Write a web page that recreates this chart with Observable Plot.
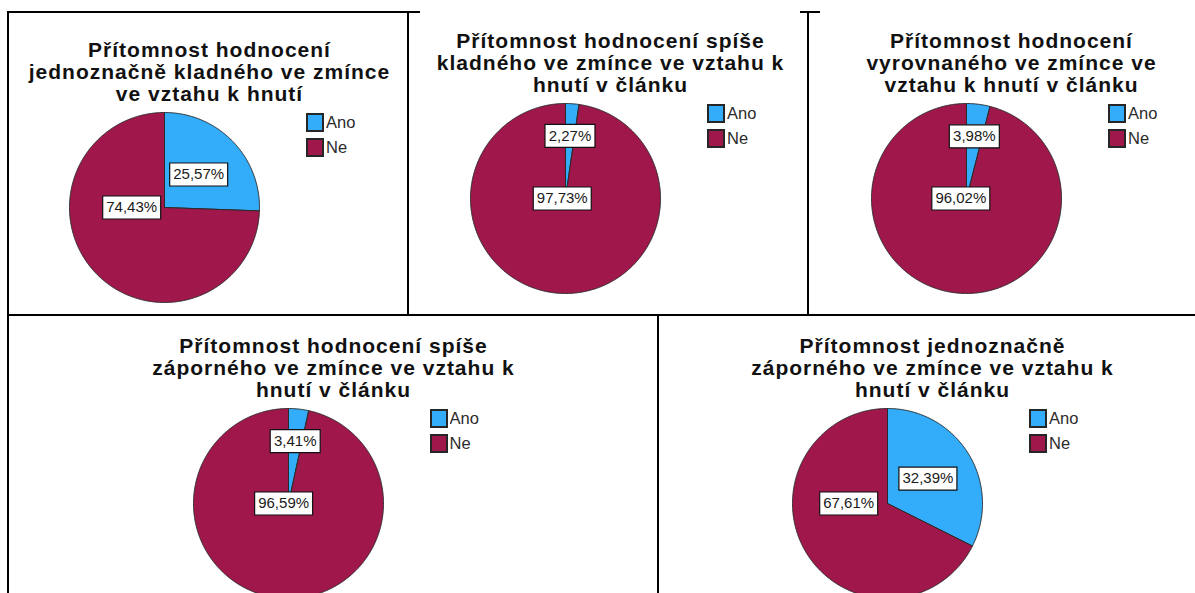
<!DOCTYPE html>
<html>
<head>
<meta charset="utf-8">
<script src="https://cdn.jsdelivr.net/npm/d3@7"></script>
<script src="https://cdn.jsdelivr.net/npm/@observablehq/plot@0.6"></script>
<style>
  body { margin: 0; background: #fff; overflow: hidden; font-family: "Liberation Sans", Arial, sans-serif; }
  #page { position: relative; width: 1195px; height: 593px; overflow: hidden; background: #fff; }
  .rule { position: absolute; background: #000; }
  .chart { position: absolute; width: 400px; height: 280px; }
  .chart > svg { position: absolute; left: 0; top: 0; overflow: visible; background: transparent; }
  .chart > svg g[font-weight="bold"] { letter-spacing: 1px; }
  .legendbox { position: absolute; }
  .legendbox, .legendbox * { font-family: "Liberation Sans", Arial, sans-serif !important; font-size: 16.5px !important; color: #2b2b2b !important; }
  .legendbox > div { margin: 0 !important; padding: 0 !important; min-height: 0 !important; display: block !important; columns: auto !important; }
  .legendbox > div > div { height: 25px !important; padding: 0 !important; margin: 0 !important; display: flex !important; align-items: flex-start !important; line-height: 17px !important; width: auto !important; overflow: visible !important; }
  .legendbox svg { margin: 0 3px 0 0 !important; flex-shrink: 0; }
  .legendbox svg rect { stroke: #262626; stroke-width: 2px; }
</style>
</head>
<body>
<div id="page"></div>
<script>
// ---------- data ----------
const titles = [
  "Přítomnost hodnocení\njednoznačně kladného ve zmínce\nve vztahu k hnutí",
  "Přítomnost hodnocení spíše\nkladného ve zmínce ve vztahu k\nhnutí v článku",
  "Přítomnost hodnocení\nvyrovnaného ve zmínce ve\nvztahu k hnutí v článku",
  "Přítomnost hodnocení spíše\nzáporného ve zmínce ve vztahu k\nhnutí v článku",
  "Přítomnost jednoznačně\nzáporného ve zmínce ve vztahu k\nhnutí v článku"
];
const categories = ["Ano", "Ne"];
const anoValues = [25.57, 2.27, 3.98, 3.41, 32.39];
const neValues  = [74.43, 97.73, 96.02, 96.59, 67.61];

// ---------- style / layout ----------
const colors = ["#33acfa", "#a0184b"];
const FONT = "Liberation Sans, Arial, sans-serif";
const R = 95, CX = 150, CY = 175, W = 400, H = 280;
// page position of each pie's centre
const centres = [[164, 207], [565, 198], [966, 198], [287.5, 503], [887, 503]];

const page = document.getElementById("page");

function rule(x, y, w, h) {
  const d = document.createElement("div");
  d.className = "rule";
  Object.assign(d.style, {left: x + "px", top: y + "px", width: w + "px", height: h + "px"});
  page.appendChild(d);
}

const ctx = document.createElement("canvas").getContext("2d");
ctx.font = "15px 'Liberation Sans', Arial, sans-serif";
const textWidth = (s) => ctx.measureText(s).width;
const fmt = (v) => v.toFixed(2).replace(".", ",") + "%";

function boxSymbol(w, h) {
  return { draw(c) { c.moveTo(-w / 2, -h / 2); c.lineTo(w / 2, -h / 2); c.lineTo(w / 2, h / 2); c.lineTo(-w / 2, h / 2); c.closePath(); } };
}

function pie(i) {
  const vals = [anoValues[i], neValues[i]];
  const total = d3.sum(vals);
  let a = 0;
  const slices = categories.map((c, k) => {
    const a0 = a, a1 = a + vals[k] / total * 2 * Math.PI;
    a = a1;
    return {category: c, value: vals[k], share: vals[k] / total, a0, a1, mid: (a0 + a1) / 2, color: colors[k]};
  });
  const outlines = slices.map(s => {
    const n = Math.max(2, Math.ceil((s.a1 - s.a0) / (Math.PI / 360)));
    const pts = [{x: 0, y: 0}];
    for (let j = 0; j <= n; j++) {
      const t = s.a0 + (s.a1 - s.a0) * j / n;
      pts.push({x: Math.sin(t), y: Math.cos(t)});
    }
    pts.push({x: 0, y: 0});
    return pts;
  });
  const labels = slices.map(s => {
    let lx, ly;
    if (s.share > 0.5) { lx = 0.48 * Math.sin(s.mid); ly = 0; }
    else { const f = s.share < 0.1 ? 0.66 : 0.5; lx = f * Math.sin(s.mid); ly = f * Math.cos(s.mid); }
    return {lx, ly, text: fmt(s.value)};
  });

  const svg = Plot.plot({
    width: W, height: H, margin: 0,
    style: {fontFamily: FONT, overflow: "visible", background: "transparent"},
    x: {domain: [-1, 1], range: [CX - R, CX + R], axis: null},
    y: {domain: [-1, 1], range: [CY + R, CY - R], axis: null},
    marks: [
      ...slices.map((s, k) => Plot.line(outlines[k], {x: "x", y: "y", fill: s.color, stroke: "#2a2a2a", strokeWidth: 1, strokeLinejoin: "round"})),
      ...labels.map(l => Plot.dot([l], {x: "lx", y: "ly", r: 5, symbol: boxSymbol(Math.round(textWidth(l.text)) + 7, 23), fill: "white", stroke: "#111", strokeWidth: 1.2})),
      Plot.text(labels, {x: "lx", y: "ly", text: "text", fontSize: 15, fill: "#1a1a1a"}),
      Plot.text([titles[i]], {frameAnchor: "top", text: d => d, dx: CX + 45 - W / 2, dy: 9, fontSize: 21, fontWeight: "bold", lineHeight: 1.05, fill: "#111"})
    ]
  });

  const div = document.createElement("div");
  div.className = "chart";
  div.style.left = (centres[i][0] - CX) + "px";
  div.style.top = (centres[i][1] - CY) + "px";
  div.appendChild(svg);

  const lg = Plot.legend({
    color: {domain: categories, range: colors},
    legend: "swatches", columns: 1, swatchWidth: 16, swatchHeight: 17, className: "lg"
  });
  const lb = document.createElement("div");
  lb.className = "legendbox";
  lb.style.left = (CX + 143) + "px";
  lb.style.top = (CY - R + 2) + "px";
  lb.appendChild(lg);
  div.appendChild(lb);
  page.appendChild(div);
}

for (let i = 0; i < titles.length; i++) pie(i);

// table borders
rule(7, 11, 413, 2);
rule(800, 11, 20, 2);
rule(7, 11, 2, 582);
rule(407, 11, 2, 304);
rule(807, 11, 2, 304);
rule(7, 314, 1188, 2);
rule(657, 315, 2, 278);
</script>
</body>
</html>
